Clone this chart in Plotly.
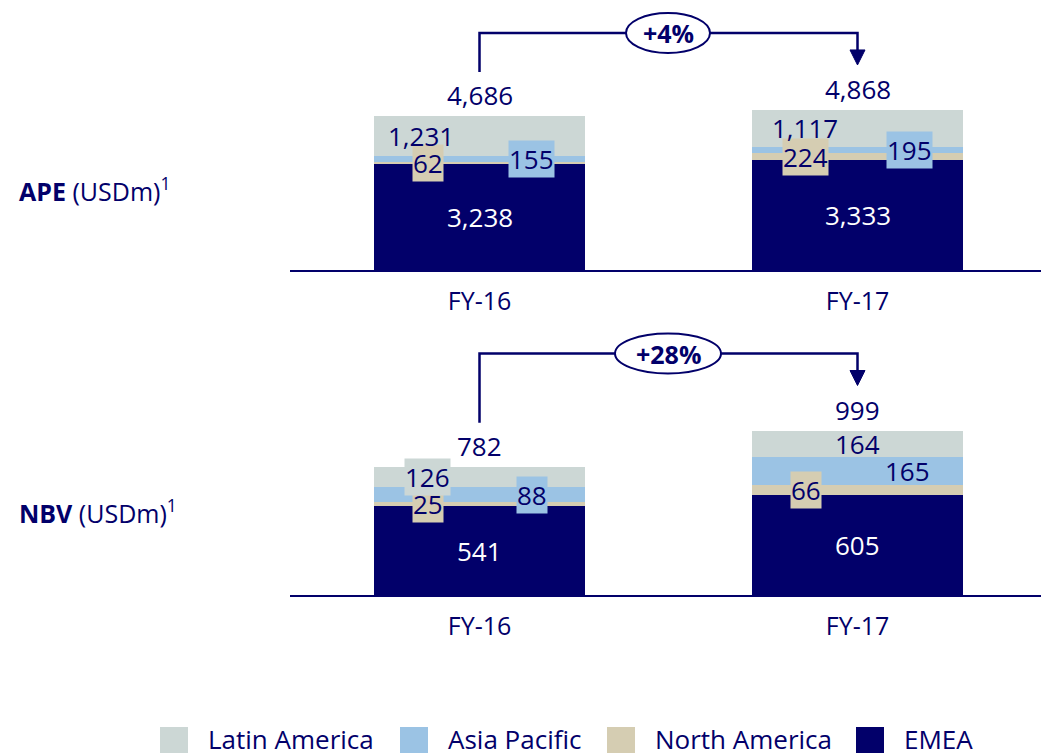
import plotly.graph_objects as go

# ---------------- data ----------------
categories = ["FY-16", "FY-17"]
regions = ["Latin America", "Asia Pacific", "North America", "EMEA"]

ape_emea = [3238, 3333]
ape_north_america = [62, 224]
ape_asia_pacific = [155, 195]
ape_latin_america = [1231, 1117]
ape_total = [4686, 4868]

nbv_emea = [541, 605]
nbv_north_america = [25, 66]
nbv_asia_pacific = [88, 165]
nbv_latin_america = [126, 164]
nbv_total = [782, 999]

growth = ["+4%", "+28%"]
panel_titles = ["<b>APE</b> (USDm)<sup>1</sup>", "<b>NBV</b> (USDm)<sup>1</sup>"]

# ---------------- style ----------------
W, H = 1041, 753
FONT = "Open Sans"
NAVY = "#02006a"
COLORS = {"Latin America": "#ccd7d5", "Asia Pacific": "#9bc3e4",
          "North America": "#d5cdb2", "EMEA": NAVY}

X_LEFT_PX = 290
CAT0_PX, STEP_PX = 479.5, 378.0
BAR_W_PX = 211


def px_x(px):
    return (px - CAT0_PX) / STEP_PX


x_range = [px_x(X_LEFT_PX), px_x(W)]

# panel geometry: (baseline px, top px, px per unit)
panels = [
    dict(base=270, top=0, ppu=0.03287,
         series={"EMEA": ape_emea, "North America": ape_north_america,
                 "Asia Pacific": ape_asia_pacific, "Latin America": ape_latin_america},
         total=ape_total,
         offs={"Latin America": [-59, -53], "Asia Pacific": [52, 52], "North America": [-52, -52]},
         boxed={"Latin America": [False, False], "Asia Pacific": [True, True], "North America": [True, True]}),
    dict(base=595, top=300, ppu=0.1645,
         series={"EMEA": nbv_emea, "North America": nbv_north_america,
                 "Asia Pacific": nbv_asia_pacific, "Latin America": nbv_latin_america},
         total=nbv_total,
         offs={"Latin America": [-52, 0], "Asia Pacific": [52, 50], "North America": [-52, -52]},
         boxed={"Latin America": [True, False], "Asia Pacific": [True, False], "North America": [True, True]}),
]

stack_order = ["EMEA", "North America", "Asia Pacific", "Latin America"]
xvals = list(range(len(categories)))

fig = go.Figure()
annotations = []
shapes = []

for pi, p in enumerate(panels):
    xa = "x" if pi == 0 else "x2"
    ya = "y" if pi == 0 else "y2"
    for reg in stack_order:
        fig.add_trace(go.Bar(
            x=xvals, y=p["series"][reg], name=reg, xaxis=xa, yaxis=ya,
            marker=dict(color=COLORS[reg], line=dict(width=0)),
            width=BAR_W_PX / STEP_PX, showlegend=False, hoverinfo="skip"))

    ppu = p["ppu"]
    for i in xvals:
        bottom = 0
        for reg in stack_order:
            v = p["series"][reg][i]
            mid = bottom + v / 2
            if reg == "EMEA":
                annotations.append(dict(x=i, y=mid, xref=xa, yref=ya, text=f"{v:,}",
                                        showarrow=False, font=dict(color="white", size=26, family=FONT)))
            else:
                boxed = p["boxed"][reg][i]
                ann = dict(x=i + p["offs"][reg][i] / STEP_PX, y=mid, xref=xa, yref=ya, text=f"{v:,}",
                           showarrow=False, font=dict(color=NAVY, size=26, family=FONT), borderpad=0)
                if boxed:
                    ann["bgcolor"] = COLORS[reg]
                annotations.append(ann)
            bottom += v
        # total label
        annotations.append(dict(x=i, y=bottom, xref=xa, yref=ya, text=f"{p['total'][i]:,}",
                                showarrow=False, yshift=21, yanchor="middle",
                                font=dict(color=NAVY, size=26, family=FONT)))

    # bracket with growth
    stacked = [sum(p["series"][r][i] for r in stack_order) for i in xvals]
    level = max(stacked) + 77 / ppu
    left_end = stacked[0] + 44 / ppu
    tip = stacked[1] + 45 / ppu
    head_base = tip + 15 / ppu
    hw = 7.5 / STEP_PX
    line = dict(color=NAVY, width=2.5)
    shapes.append(dict(type="path", xref=xa, yref=ya,
                       path=f"M 0 {left_end} L 0 {level} L 1 {level} L 1 {head_base}",
                       line=line))
    shapes.append(dict(type="path", xref=xa, yref=ya,
                       path=f"M {1 - hw} {head_base} L {1 + hw} {head_base} L 1 {tip} Z",
                       fillcolor=NAVY, line=dict(color=NAVY, width=1)))
    ew = (84 if pi == 0 else 106) / STEP_PX
    eh = 40 / ppu
    cx = px_x(668)
    shapes.append(dict(type="circle", xref=xa, yref=ya,
                       x0=cx - ew / 2, x1=cx + ew / 2, y0=level - eh / 2, y1=level + eh / 2,
                       fillcolor="white", line=dict(color=NAVY, width=2)))
    annotations.append(dict(x=cx, y=level, xref=xa, yref=ya, text=f"<b>{growth[pi]}</b>",
                            showarrow=False, font=dict(color=NAVY, size=25, family=FONT)))

    # panel title
    annotations.append(dict(x=17 / W, y=1 - (189 if pi == 0 else 512) / H, xref="paper", yref="paper",
                            xanchor="left", yanchor="middle", text=panel_titles[pi], showarrow=False,
                            font=dict(color=NAVY, size=25, family=FONT)))

# custom legend
legend_sq_x = [160, 400, 607, 856]
for reg, sx in zip(regions, legend_sq_x):
    shapes.append(dict(type="rect", xref="paper", yref="paper",
                       x0=sx / W, x1=(sx + 28) / W, y0=1 - 756 / H, y1=1 - 727 / H,
                       fillcolor=COLORS[reg], line=dict(width=0)))
    annotations.append(dict(x=(sx + 46) / W, y=1 - 739 / H, xref="paper", yref="paper",
                            xanchor="left", yanchor="middle", text=reg, showarrow=False,
                            font=dict(color=NAVY, size=26, family=FONT)))


def yax(p):
    d0 = 1 - p["base"] / H
    d1 = 1 - p["top"] / H
    return dict(domain=[d0, d1], range=[0, (p["base"] - p["top"]) / p["ppu"]],
                visible=False, fixedrange=True)


def xax(anchor):
    return dict(domain=[X_LEFT_PX / W, 1], range=x_range, anchor=anchor,
                tickvals=xvals, ticktext=categories, showgrid=False, zeroline=False,
                showline=True, linecolor=NAVY, linewidth=2, ticks="",
                ticklabelstandoff=8,
                tickfont=dict(color=NAVY, size=25, family=FONT), fixedrange=True)


fig.update_layout(
    width=W, height=H, margin=dict(l=0, r=0, t=0, b=0),
    paper_bgcolor="white", plot_bgcolor="white",
    barmode="stack", bargap=0, showlegend=False,
    xaxis=xax("y"), yaxis=yax(panels[0]),
    xaxis2=xax("y2"), yaxis2=yax(panels[1]),
    annotations=annotations, shapes=shapes,
    font=dict(family=FONT, color=NAVY),
)

fig.write_html("out.html")
